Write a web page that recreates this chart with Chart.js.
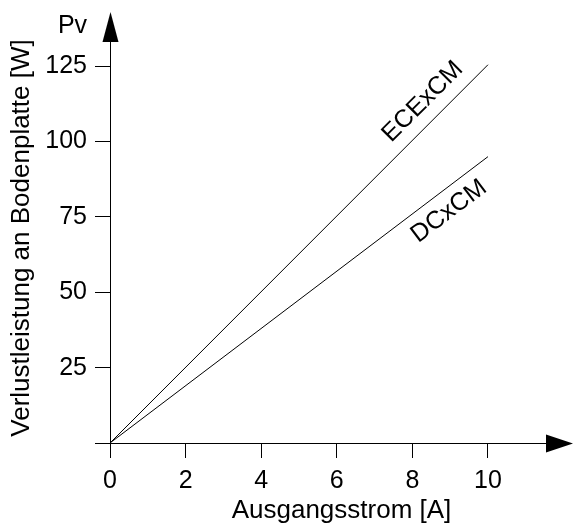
<!doctype html>
<html lang="de">

<head>
    <meta charset="utf-8">
    <title>Verlustleistung an Bodenplatte</title>
    <script src="https://cdn.jsdelivr.net/npm/chart.js"></script>
    <style>
        body {
            margin: 0;
            background: #fff;
        }

        #wrap {
            width: 573px;
            height: 524px;
        }
    </style>
</head>

<body>
    <div id="wrap">
        <canvas id="chart"></canvas>
    </div>

    <script>
        // data
        const current = [0, 10];           // Ausgangsstrom [A]
        const ecexcm = [0, 125.5];         // Pv [W]
        const dcxcm = [0, 95];             // Pv [W]
        const seriesNames = ['ECExCM', 'DCxCM'];
        const xTicks = [0, 2, 4, 6, 8, 10];
        const yTicks = [0, 25, 50, 75, 100, 125];

        const FONT = 'Liberation Sans, Arial, sans-serif';

        const toPoints = (ys) => current.map((x, i) => ({ x: x, y: ys[i] }));

        // axes with arrow heads, line names, Pv and y title
        const decor = {
            id: 'decor',
            afterDraw(chart) {
                const ctx = chart.ctx;
                const area = chart.chartArea;
                const xs = chart.scales.x;
                const ys = chart.scales.y;
                const x0 = Math.round(xs.getPixelForValue(0)) + 0.5;
                const y0 = Math.round(ys.getPixelForValue(0)) + 0.5;

                ctx.save();
                ctx.strokeStyle = '#000';
                ctx.fillStyle = '#000';
                ctx.lineWidth = 1;

                // x axis
                ctx.beginPath();
                ctx.moveTo(x0, y0);
                ctx.lineTo(area.right - 26, y0);
                ctx.stroke();
                ctx.beginPath();
                ctx.moveTo(area.right - 27, y0 - 9);
                ctx.lineTo(area.right, y0);
                ctx.lineTo(area.right - 27, y0 + 9);
                ctx.closePath();
                ctx.fill();

                // y axis
                ctx.beginPath();
                ctx.moveTo(x0, y0);
                ctx.lineTo(x0, area.top + 29);
                ctx.stroke();
                ctx.beginPath();
                ctx.moveTo(x0 - 8, area.top + 30);
                ctx.lineTo(x0, area.top);
                ctx.lineTo(x0 + 8, area.top + 30);
                ctx.closePath();
                ctx.fill();

                ctx.font = '25px ' + FONT;
                ctx.textAlign = 'center';
                ctx.textBaseline = 'middle';

                // "Pv" next to the arrow
                ctx.fillText('Pv', x0 - 38, area.top + 14);

                // line names, placed along each line
                chart.data.datasets.forEach((ds, i) => {
                    const p0 = ds.data[0];
                    const p1 = ds.data[ds.data.length - 1];
                    const ax = xs.getPixelForValue(p0.x), ay = ys.getPixelForValue(p0.y);
                    const bx = xs.getPixelForValue(p1.x), by = ys.getPixelForValue(p1.y);
                    const ang = Math.atan2(by - ay, bx - ax);
                    const t = 0.865;
                    const px = ax + (bx - ax) * t;
                    const py = ay + (by - ay) * t;
                    const side = i === 0 ? -1 : 1; // above / below the line
                    const off = 20;
                    const cx = px - Math.sin(ang) * off * side;
                    const cy = py + Math.cos(ang) * off * side;
                    ctx.save();
                    ctx.translate(cx, cy);
                    ctx.rotate(ang);
                    ctx.fillText(ds.label, 0, 0);
                    ctx.restore();
                });

                // y axis title
                ctx.save();
                ctx.translate(22, 238);
                ctx.rotate(-Math.PI / 2);
                ctx.font = '26px ' + FONT;
                ctx.fillText('Verlustleistung an Bodenplatte [W]', 0, 0);
                ctx.restore();

                ctx.restore();
            }
        };

        const ctx = document.getElementById('chart').getContext('2d');
        new Chart(ctx, {
            type: 'line',
            data: {
                datasets: [
                    { label: seriesNames[0], data: toPoints(ecexcm) },
                    { label: seriesNames[1], data: toPoints(dcxcm) }
                ]
            },
            options: {
                responsive: true,
                maintainAspectRatio: false,
                animation: false,
                layout: { padding: { top: 12, right: 0, left: 0, bottom: 0 } },
                elements: {
                    line: { borderColor: '#000', borderWidth: 1, tension: 0 },
                    point: { radius: 0 }
                },
                plugins: {
                    legend: { display: false },
                    tooltip: { enabled: false }
                },
                scales: {
                    x: {
                        type: 'linear',
                        min: 0,
                        max: 12.25,
                        afterFit: (s) => {
                            s.height = 81;
                            s.paddingLeft = 0;
                            s.paddingRight = 0;
                        },
                        afterBuildTicks: (s) => { s.ticks = xTicks.map(v => ({ value: v })); },
                        border: { display: false },
                        grid: {
                            drawOnChartArea: false,
                            drawTicks: true,
                            tickLength: 15,
                            color: '#000'
                        },
                        ticks: {
                            color: '#000',
                            padding: 8,
                            maxRotation: 0,
                            font: { family: FONT, size: 25 }
                        },
                        title: {
                            display: true,
                            text: 'Ausgangsstrom [A]',
                            color: '#000',
                            padding: { top: 0, bottom: 0 },
                            font: { family: FONT, size: 26, lineHeight: 1 }
                        }
                    },
                    y: {
                        type: 'linear',
                        min: 0,
                        max: 143,
                        afterFit: (s) => {
                            s.width = 110;
                            s.paddingTop = 0;
                            s.paddingBottom = 0;
                        },
                        afterBuildTicks: (s) => { s.ticks = yTicks.map(v => ({ value: v })); },
                        border: { display: false },
                        grid: {
                            drawOnChartArea: false,
                            drawTicks: true,
                            tickLength: 15,
                            color: '#000'
                        },
                        ticks: {
                            color: '#000',
                            padding: 8,
                            font: { family: FONT, size: 25 },
                            callback: (v) => (v === 0 ? '' : v)
                        }
                    }
                }
            },
            plugins: [decor]
        });
    </script>
</body>

</html>
